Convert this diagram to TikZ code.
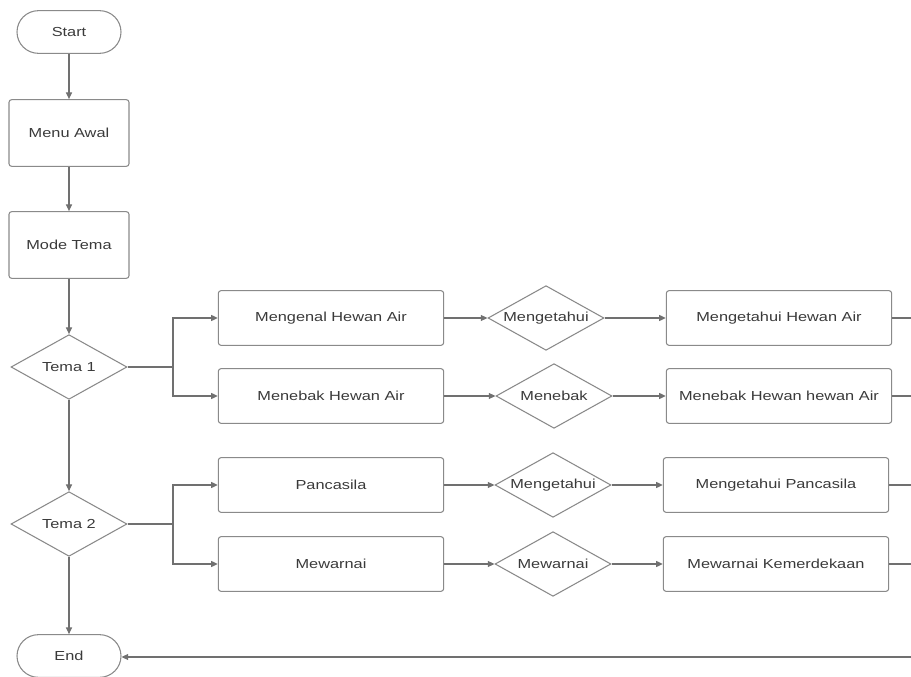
\documentclass[tikz,border=0pt]{standalone}
\usepackage{fontspec}
\setmainfont{Liberation Sans}[FakeStretch=1.25]
\usetikzlibrary{shapes.geometric,arrows.meta}
\definecolor{linegray}{HTML}{707070}
\definecolor{edgegray}{HTML}{8A8A8A}
\definecolor{txtgray}{HTML}{3A3A3A}
\begin{document}
\begin{tikzpicture}[x=0.75pt,y=-0.75pt,
	font=\fontsize{9.8}{11}\selectfont,text=txtgray,
	term/.style={draw=edgegray,line width=0.8pt,rectangle,rounded corners=16pt,minimum width=78pt,minimum height=32pt},
	box/.style={draw=edgegray,line width=0.8pt,rectangle,rounded corners=2pt,minimum width=90pt,minimum height=50pt},
	wide/.style={draw=edgegray,line width=0.8pt,rectangle,rounded corners=2pt,minimum width=169pt,minimum height=41pt},
	cond/.style={draw=edgegray,line width=0.8pt,diamond,aspect=2.2,inner sep=0pt,minimum width=87pt,minimum height=48.5pt},
	arr/.style={draw=linegray,line width=0.8pt,-{Triangle[length=5pt,width=4.5pt]}},
	ln/.style={draw=linegray,line width=0.8pt}]
\useasboundingbox (0,0) rectangle (911,677);
% kolom kiri
\node[term] (start) at (69,32) {Start};
\node[box] (menu) at (69,133) {Menu Awal};
\node[box] (mode) at (69,245) {Mode Tema};
\node[cond] (tema1) at (69,367) {Tema 1};
\node[cond] (tema2) at (69,524) {Tema 2};
\node[term] (end) at (69,656) {End};
% tema 1
\node[wide] (mengenal) at (331,318) {Mengenal Hewan Air};
\node[wide] (menebak) at (331,396) {Menebak Hewan Air};
\node[cond] (tahu1) at (546,318) {Mengetahui};
\node[cond] (tebak) at (554,396) {Menebak};
\node[wide] (tahuair) at (779,318) {Mengetahui Hewan Air};
\node[wide] (tebakair) at (779,396) {Menebak Hewan hewan Air};
% tema 2
\node[wide] (panca) at (331,485) {Pancasila};
\node[wide] (warna) at (331,564) {Mewarnai};
\node[cond] (tahu2) at (553,485) {Mengetahui};
\node[cond] (warnad) at (553,564) {Mewarnai};
\node[wide] (tahupanca) at (776,485) {Mengetahui Pancasila};
\node[wide] (warnamerdeka) at (776,564) {Mewarnai Kemerdekaan};
% titik cabang dan tepi kanan
\coordinate (j1) at (173,367);
\coordinate (j2) at (173,524);
\coordinate (r1) at (911,318);
\coordinate (r2) at (911,396);
\coordinate (r3) at (911,485);
\coordinate (r4) at (911,564);
\coordinate (r5) at (911,657);
\draw[arr] (start) -- (menu);
\draw[arr] (menu) -- (mode);
\draw[arr] (mode) -- (tema1);
\draw[arr] (tema1) -- (tema2);
\draw[arr] (tema2) -- (end);
\draw[ln] (tema1.east) -- (j1);
\draw[arr] (j1) |- (mengenal.west);
\draw[arr] (j1) |- (menebak.west);
\draw[ln] (tema2.east) -- (j2);
\draw[arr] (j2) |- (panca.west);
\draw[arr] (j2) |- (warna.west);
\draw[arr] (mengenal) -- (tahu1);
\draw[arr] (tahu1) -- (tahuair);
\draw[arr] (menebak) -- (tebak);
\draw[arr] (tebak) -- (tebakair);
\draw[arr] (panca) -- (tahu2);
\draw[arr] (tahu2) -- (tahupanca);
\draw[arr] (warna) -- (warnad);
\draw[arr] (warnad) -- (warnamerdeka);
\draw[ln] (tahuair) -- (r1);
\draw[ln] (tebakair) -- (r2);
\draw[ln] (tahupanca) -- (r3);
\draw[ln] (warnamerdeka) -- (r4);
\draw[arr] (r5) -- (end.east |- r5);
\end{tikzpicture}
\end{document}
